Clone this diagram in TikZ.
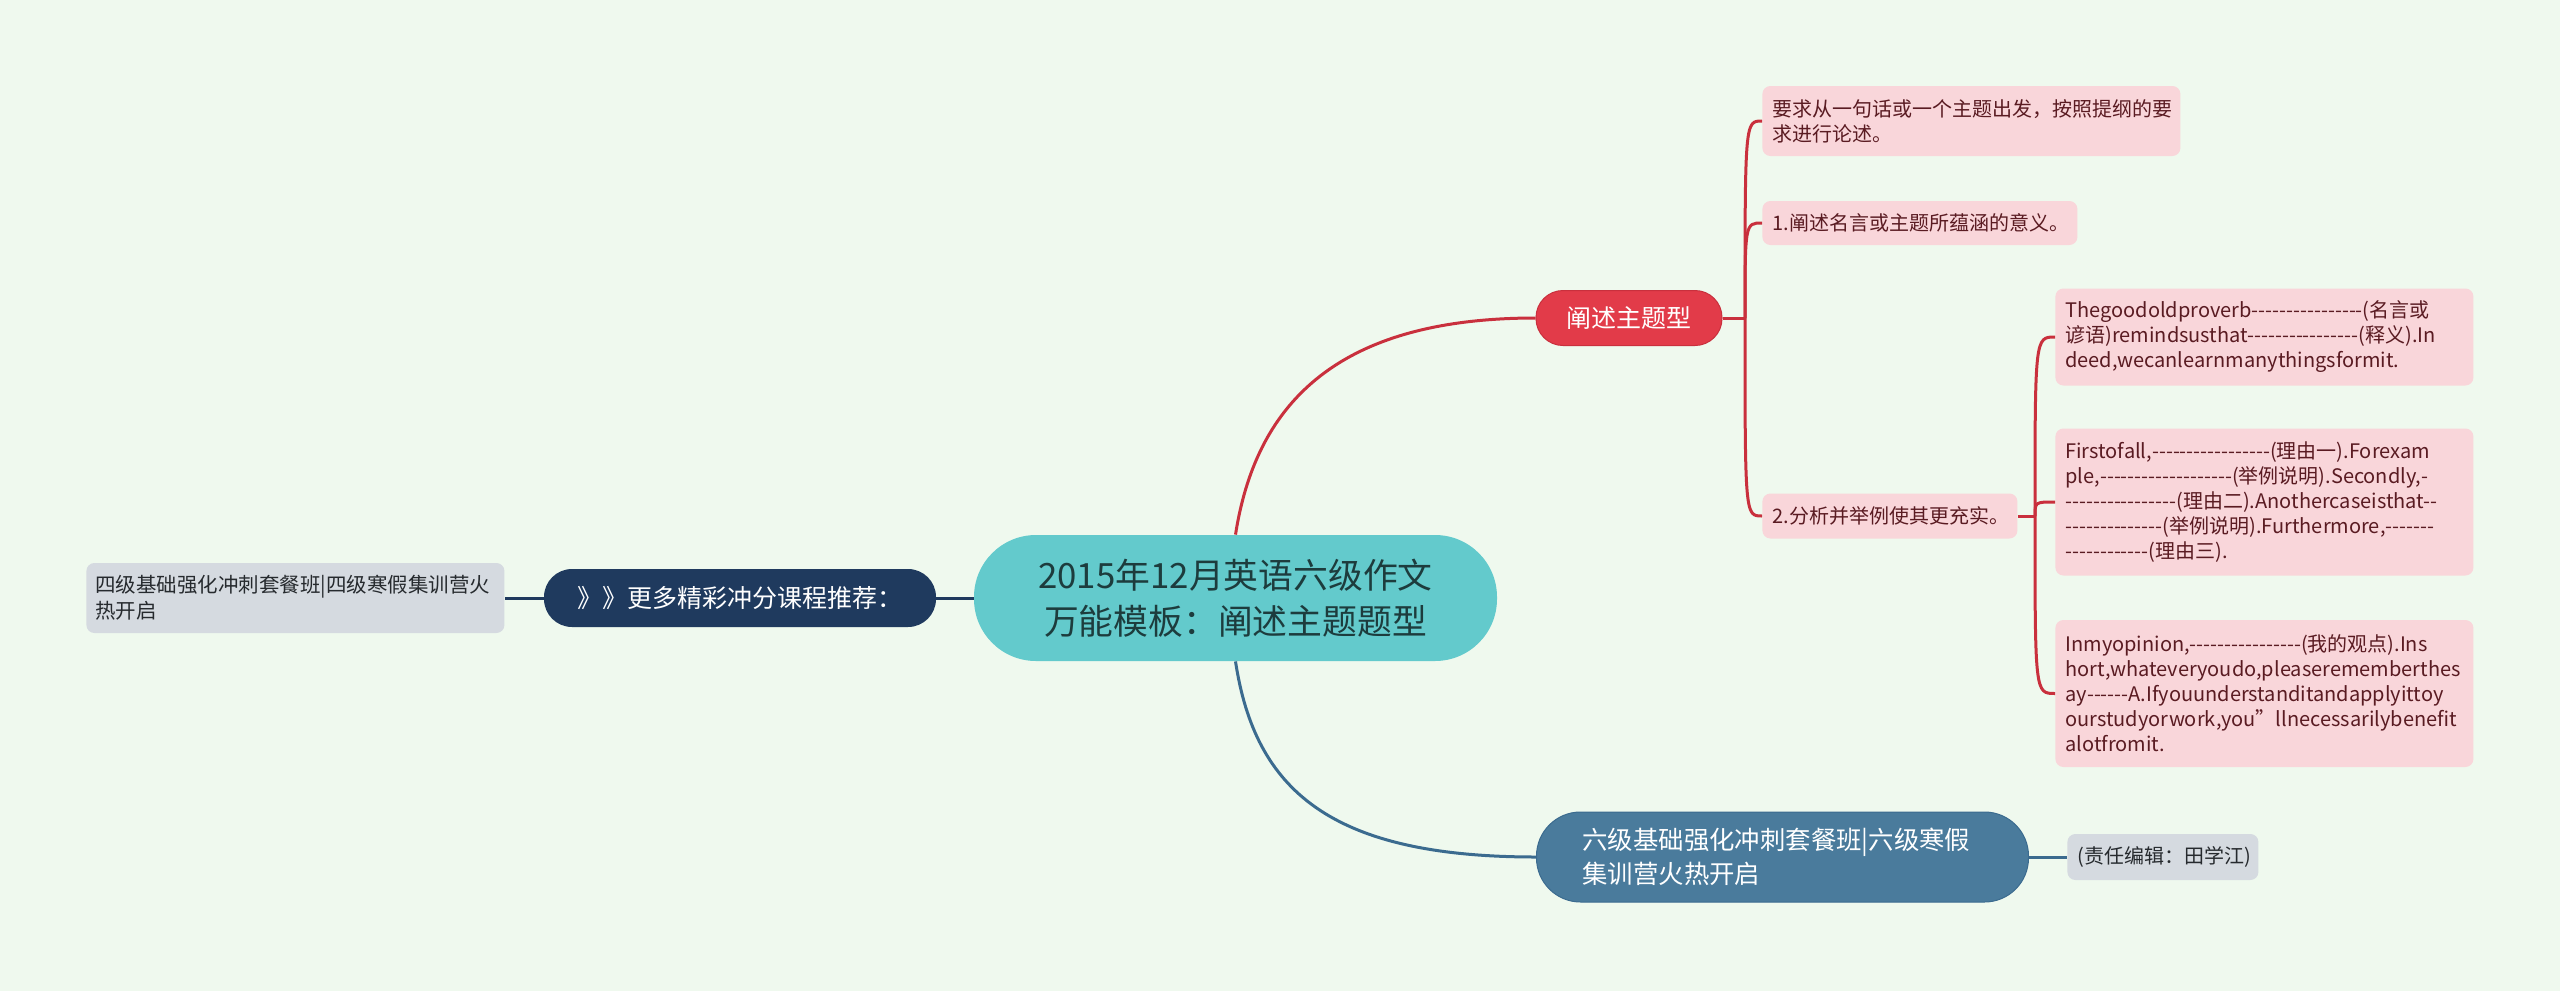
\documentclass[tikz,border=0pt]{standalone}
\usepackage{fontspec}
\setmainfont{Noto Sans CJK SC}[Ligatures=TeXOff]
\usepackage{xcolor}
\usetikzlibrary{positioning}
\definecolor{bgmint}{HTML}{EFF9EE}
\definecolor{rootteal}{HTML}{63CACC}
\definecolor{rootink}{HTML}{1D3C3D}
\definecolor{topicred}{HTML}{E23B49}
\definecolor{redline}{HTML}{C9303D}
\definecolor{leafpink}{HTML}{F9D6DA}
\definecolor{leafink}{HTML}{5A1B22}
\definecolor{steel}{HTML}{4A7B9C}
\definecolor{steelline}{HTML}{3B6B8F}
\definecolor{navy}{HTML}{1F3A5E}
\definecolor{greyfill}{HTML}{D5DAE0}
\definecolor{greyink}{HTML}{262A2E}

\begin{document}
\begin{tikzpicture}[x=0.5pt, y=-0.5pt,
  root/.style={fill=rootteal, text=rootink, rounded corners=31pt, align=center,
               minimum width=261.5pt, minimum height=63pt, font=\fontsize{17.4}{23}\selectfont},
  topic/.style={fill=topicred, draw=redline, line width=0.5pt, text=white, rounded corners=13.5pt,
                minimum width=93pt, minimum height=27.5pt, font=\fontsize{12.5}{15}\selectfont},
  course/.style={fill=steel, draw=steelline, line width=0.5pt, text=white, rounded corners=22pt,
                 align=left, text width=200pt, inner xsep=23pt, minimum height=45pt,
                 font=\fontsize{12.7}{17}\selectfont},
  more/.style={fill=navy, text=white, rounded corners=14pt, minimum width=196pt,
               minimum height=29pt, font=\fontsize{12.5}{15}\selectfont},
  leaf/.style={fill=leafpink, text=leafink, rounded corners=4pt, align=left, anchor=west,
               inner xsep=5pt, font=\fontsize{10}{12.5}\selectfont},
  note/.style={leaf, fill=greyfill, text=greyink},
  redl/.style={draw=redline, line width=1.5pt},
  bluel/.style={draw=steelline, line width=1.5pt},
  navyl/.style={draw=navy, line width=1.5pt}]
  \useasboundingbox[fill=bgmint] (0,0) rectangle (2560,991);
  \node[root] (root) at (1235.5,598) {2015年12月英语六级作文\\万能模板：阐述主题题型};
  \node[topic] (topic) at (1629,318) {阐述主题型};
  \node[leaf, text width=199pt, minimum height=35pt] (l1) at (1762,121)
    {要求从一句话或一个主题出发，按照提纲的要\\求进行论述。};
  \node[leaf, text width=147.5pt, minimum height=22pt] (l2) at (1762,223)
    {1.阐述名言或主题所蕴涵的意义。};
  \node[leaf, text width=117.5pt, minimum height=22.5pt] (l3) at (1762,516)
    {2.分析并举例使其更充实。};
  \node[leaf, text width=199pt, minimum height=48.5pt] (pa) at (2055,337)
    {Thegoodoldproverb----------------(名言或\\谚语)remindsusthat----------------(释义).In\\deed,wecanlearnmanythingsformit.};
  \node[leaf, text width=199pt, minimum height=73.5pt] (pb) at (2055,502)
    {Firstofall,-----------------(理由一).Forexam\\ple,-------------------(举例说明).Secondly,-\\----------------(理由二).Anothercaseisthat--\\--------------(举例说明).Furthermore,-------\\------------(理由三).};
  \node[leaf, text width=199pt, minimum height=73.5pt] (pc) at (2055,693.5)
    {Inmyopinion,----------------(我的观点).Ins\\hort,whateveryoudo,pleaserememberthes\\ay------A.Ifyouunderstanditandapplyittoy\\ourstudyorwork,you”llnecessarilybenefit\\alotfromit.};
  \node[course] (course) at (1782.5,857) {六级基础强化冲刺套餐班|六级寒假\\集训营火热开启};
  \node[note, text width=85.5pt, align=center, minimum height=23pt] (edit) at (2067,857)
    {(责任编辑：田学江)};
  \node[more] (more) at (740,598) {》》更多精彩冲分课程推荐：};
  \node[note, text width=200pt, inner xsep=4.5pt, minimum height=35pt,
        font=\fontsize{10.25}{13}\selectfont] (side) at (86,598)
    {四级基础强化冲刺套餐班|四级寒假集训营火\\热开启};
  \coordinate (jt) at (1745,318);
  \coordinate (js) at (2035,516);
  \draw[redl] (root.north) .. controls (1255,410) and (1330,318) .. (topic.west);
  \draw[redl] (topic.east) -- (jt);
  \draw[redl] (jt) .. controls (jt |- l1.west) .. (l1.west);
  \draw[redl] (jt) .. controls (jt |- l2.west) .. (l2.west);
  \draw[redl] (jt) .. controls (jt |- l3.west) .. (l3.west);
  \draw[redl] (l3.east) -- (js);
  \draw[redl] (js) .. controls (js |- pa.west) .. (pa.west);
  \draw[redl] (js) .. controls (js |- pb.west) .. (pb.west);
  \draw[redl] (js) .. controls (js |- pc.west) .. (pc.west);
  \draw[bluel] (root.south) .. controls (1255,790) and (1330,857) .. (course.west);
  \draw[bluel] (course.east) -- (edit.west);
  \draw[navyl] (root.west) -- (more.east);
  \draw[navyl] (more.west) -- (side.east);
\end{tikzpicture}
\end{document}
